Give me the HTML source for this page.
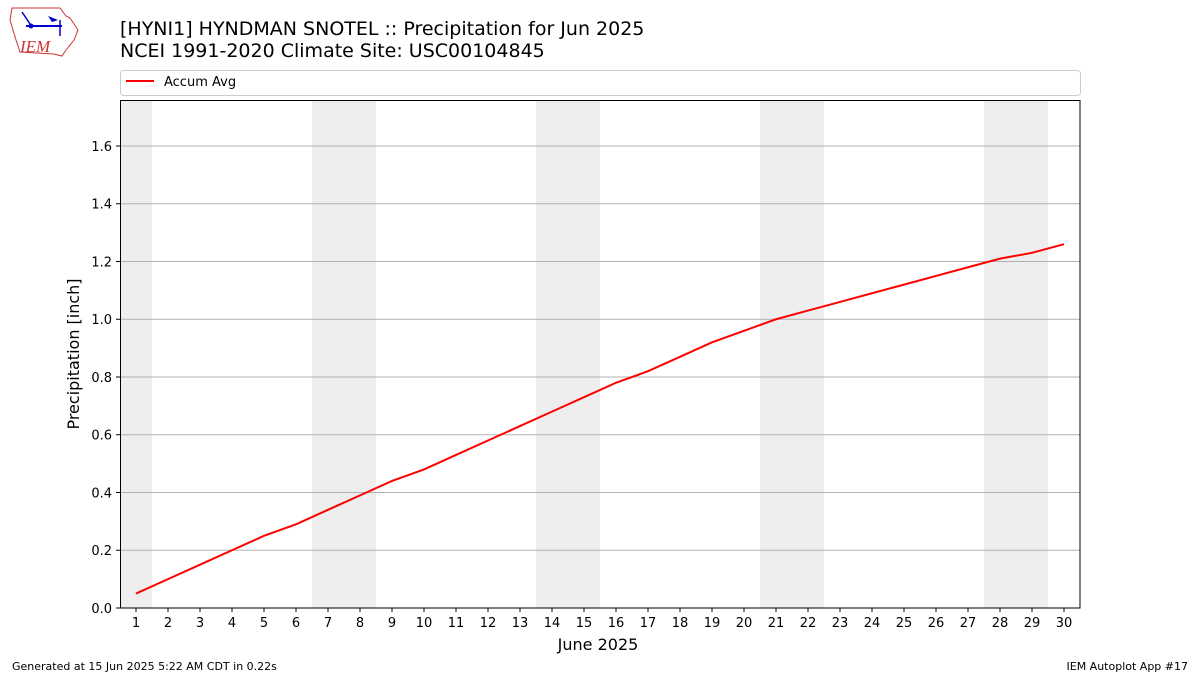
<!DOCTYPE html>
<html><head><meta charset="utf-8"><style>
body{margin:0;background:#fff;font-family:"Liberation Sans","DejaVu Sans",sans-serif;}
svg text{font-family:"DejaVu Sans","Liberation Sans",sans-serif;}
</style></head><body>
<svg id="c" width="1200" height="675" viewBox="0 0 1200 675" xmlns="http://www.w3.org/2000/svg">
<g>
<path d="M12 8 L60 8 L66 16 L70 18 L78 30 L74 40 L66 50 L62 56 L54 54 L20 52 L16 40 L10 20 Z" fill="#fff" stroke="#c33" stroke-width="1"/>
<line x1="26" y1="26" x2="62" y2="26" stroke="#00c" stroke-width="2"/>
<line x1="22" y1="12" x2="30" y2="24" stroke="#00c" stroke-width="1.5"/>
<path d="M48 16 L58 20 L52 22 Z" fill="#00c"/>
<line x1="60" y1="20" x2="60" y2="36" stroke="#00c" stroke-width="1.5"/>
<circle cx="31" cy="26" r="2.5" fill="#00c"/>
<text x="20" y="52" font-size="17" font-style="italic" fill="#c33" style="font-family:'Liberation Serif',serif">IEM</text>
</g>
<text x="120" y="35" font-size="19" fill="#000">[HYNI1] HYNDMAN SNOTEL :: Precipitation for Jun 2025</text>
<text x="120" y="57" font-size="19" fill="#000">NCEI 1991-2020 Climate Site: USC00104845</text>
<g>
<rect x="120.5" y="70.5" width="960" height="25" rx="3" fill="#fff" stroke="#ccc"/>
<line x1="126" y1="81" x2="154" y2="81" stroke="#f00" stroke-width="2"/>
<text x="164" y="86" font-size="13">Accum Avg</text>
</g>
<g id="shade"></g><g id="grid"></g><g id="line"></g>
<rect x="120.5" y="100.5" width="959.5" height="507.5" fill="none" stroke="#000"/>
<g id="axes"></g>
<text x="598" y="650" font-size="16" text-anchor="middle">June 2025</text>
<text transform="translate(79,354) rotate(-90)" font-size="16" text-anchor="middle">Precipitation [inch]</text>
<text x="12" y="670" font-size="11">Generated at 15 Jun 2025 5:22 AM CDT in 0.22s</text>
<text x="1188" y="670" font-size="11" text-anchor="end">IEM Autoplot App #17</text>
</svg>
<script>
const days=[1,2,3,4,5,6,7,8,9,10,11,12,13,14,15,16,17,18,19,20,21,22,23,24,25,26,27,28,29,30];
const accumAvg=[0.05,0.10,0.15,0.20,0.25,0.29,0.34,0.39,0.44,0.48,0.53,0.58,0.63,0.68,0.73,0.78,0.82,0.87,0.92,0.96,1.00,1.03,1.06,1.09,1.12,1.15,1.18,1.21,1.23,1.26];
const yTicks=[0.0,0.2,0.4,0.6,0.8,1.0,1.2,1.4,1.6];
const weekendRanges=[[1,1],[7,8],[14,15],[21,22],[28,29]];
const NS='http://www.w3.org/2000/svg';
const X=d=>120+(d-0.5)*32, Y=v=>608-v*(508/1.7593);
function mk(t,a,p){const e=document.createElementNS(NS,t);for(const k in a)e.setAttribute(k,a[k]);p.appendChild(e);return e;}
const sh=document.getElementById('shade');
weekendRanges.forEach(r=>{const e=mk('rect',{x:X(r[0]-0.5),y:100,width:X(r[1]+0.5)-X(r[0]-0.5),height:508,fill:'#eeeeee'},sh);

});
const g=document.getElementById('grid'),ax=document.getElementById('axes');
yTicks.forEach(v=>{const y=Y(v);
if(v>0){const l=mk('line',{x1:120,x2:1080,y1:y,y2:y,stroke:'#b0b0b0','stroke-width':1},g);}
mk('line',{x1:116,x2:120,y1:y,y2:y,stroke:'#000'},ax);
const t=mk('text',{x:112,y:y+5,'font-size':13,'text-anchor':'end'},ax);t.textContent=v.toFixed(1);

});
days.forEach(d=>{const x=X(d);mk('line',{x1:x,x2:x,y1:608,y2:612,stroke:'#000'},ax);
const t=mk('text',{x:x,y:627,'font-size':13,'text-anchor':'middle'},ax);t.textContent=d;

});
const p=mk('polyline',{points:days.map((d,i)=>X(d)+','+Y(accumAvg[i])).join(' '),fill:'none',stroke:'#f00','stroke-width':2},document.getElementById('line'));


</script>
</body></html>
